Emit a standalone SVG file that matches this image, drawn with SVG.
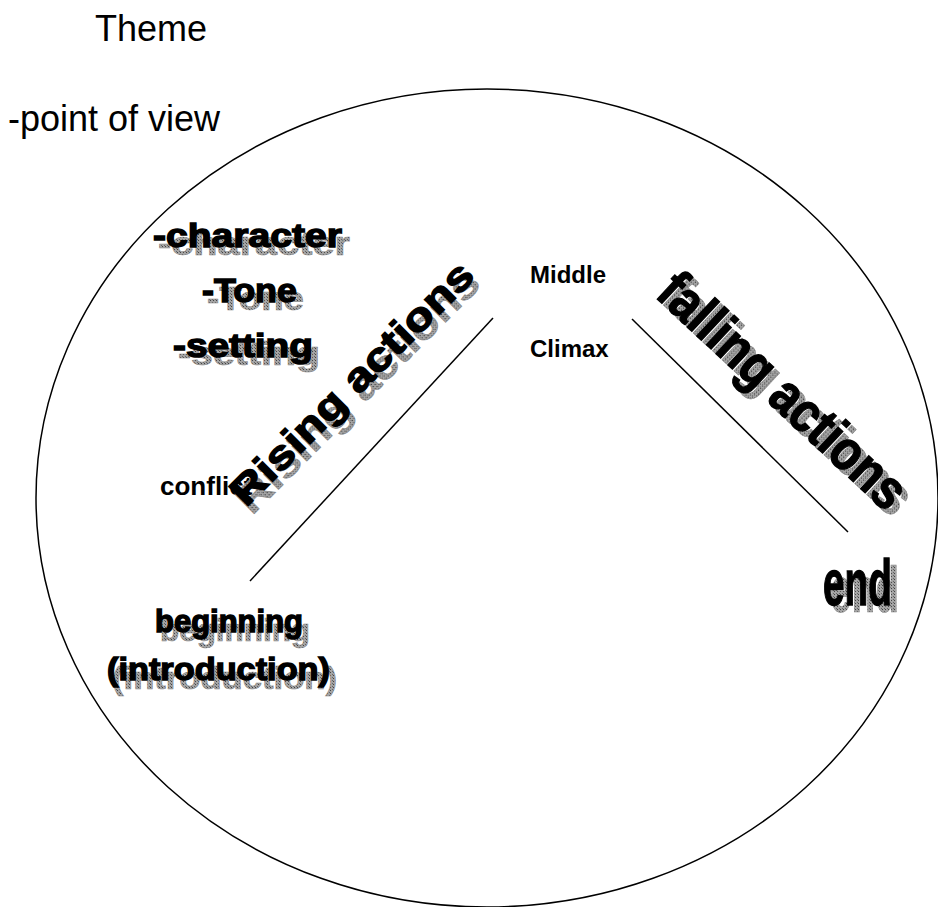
<svg xmlns="http://www.w3.org/2000/svg" width="938" height="907" viewBox="0 0 938 907">
<defs>
<pattern id="dots" width="3" height="3" patternUnits="userSpaceOnUse">
<rect width="3" height="3" fill="#a4a4a4"/>
<rect width="1" height="1" fill="#444"/>
<rect x="2" y="2" width="1" height="1" fill="#666"/>
</pattern>
<style>
.plain{font-family:"Liberation Sans",Arial,sans-serif;font-size:36px;fill:#000}
.lbl{font-family:"Liberation Sans",Arial,sans-serif;font-weight:bold;fill:#000}
.wa{font-family:"Liberation Sans",Arial,sans-serif;font-weight:bold}
.sh{fill:url(#dots);stroke:#888;stroke-width:0.6}
.fg{fill:#000;stroke:#000;stroke-width:1.4}
.ln{stroke:#000;stroke-width:1.5;fill:none}
</style>
</defs>
<rect width="938" height="907" fill="#fff"/>
<g id="ellipse"><ellipse class="ln" cx="487" cy="498" rx="451" ry="409"/></g>
<g id="connectors">
<line class="ln" x1="250" y1="581" x2="493" y2="318"/>
<line class="ln" x1="632" y1="319" x2="848" y2="532"/>
</g>
<g id="theme"><text class="plain" x="95" y="41">Theme</text></g>
<g id="pov"><text class="plain" x="8" y="131">-point of view</text></g>
<g id="character">
<text class="wa sh" x="158" y="255" font-size="34" textLength="192" lengthAdjust="spacingAndGlyphs">-character</text>
<text class="wa fg" x="153" y="247" font-size="34" textLength="189" lengthAdjust="spacingAndGlyphs">-character</text>
</g>
<g id="tone">
<text class="wa sh" x="207" y="310" font-size="34" textLength="97" lengthAdjust="spacingAndGlyphs">-Tone</text>
<text class="wa fg" x="202" y="302" font-size="34" textLength="95" lengthAdjust="spacingAndGlyphs">-Tone</text>
</g>
<g id="setting">
<text class="wa sh" x="178" y="365" font-size="34" textLength="142" lengthAdjust="spacingAndGlyphs">-setting</text>
<text class="wa fg" x="173" y="357" font-size="34" textLength="140" lengthAdjust="spacingAndGlyphs">-setting</text>
</g>
<g id="middle"><text class="lbl" x="530" y="283" font-size="24">Middle</text></g>
<g id="climax"><text class="lbl" x="530" y="357" font-size="24">Climax</text></g>
<g id="conflict"><text class="lbl" x="160" y="495" font-size="26">conflict</text></g>
<g id="rising">
<text class="wa sh" transform="translate(252,516) rotate(-45)" font-size="40" textLength="326" lengthAdjust="spacingAndGlyphs">Rising actions</text>
<text class="wa fg" transform="translate(246,508) rotate(-45)" font-size="40" textLength="326" lengthAdjust="spacingAndGlyphs">Rising actions</text>
</g>
<g id="falling">
<text class="wa sh" transform="translate(660,302) rotate(43)" font-size="56" textLength="318" lengthAdjust="spacingAndGlyphs">falling actions</text>
<text class="wa fg" transform="translate(654,296) rotate(43)" font-size="56" textLength="318" lengthAdjust="spacingAndGlyphs">falling actions</text>
</g>
<g id="beginning">
<text class="wa sh" x="160" y="641" font-size="31" textLength="150" lengthAdjust="spacingAndGlyphs">beginning</text>
<text class="wa fg" x="155" y="632" font-size="31" textLength="148" lengthAdjust="spacingAndGlyphs">beginning</text>
<text class="wa sh" x="112" y="689" font-size="32" textLength="225" lengthAdjust="spacingAndGlyphs">(introduction)</text>
<text class="wa fg" x="107" y="680" font-size="32" textLength="223" lengthAdjust="spacingAndGlyphs">(introduction)</text>
</g>
<g id="end">
<text class="wa sh" x="830" y="612" font-size="64" textLength="69" lengthAdjust="spacingAndGlyphs">end</text>
<text class="wa fg" x="823" y="605" font-size="64" textLength="69" lengthAdjust="spacingAndGlyphs">end</text>
</g>
</svg>
